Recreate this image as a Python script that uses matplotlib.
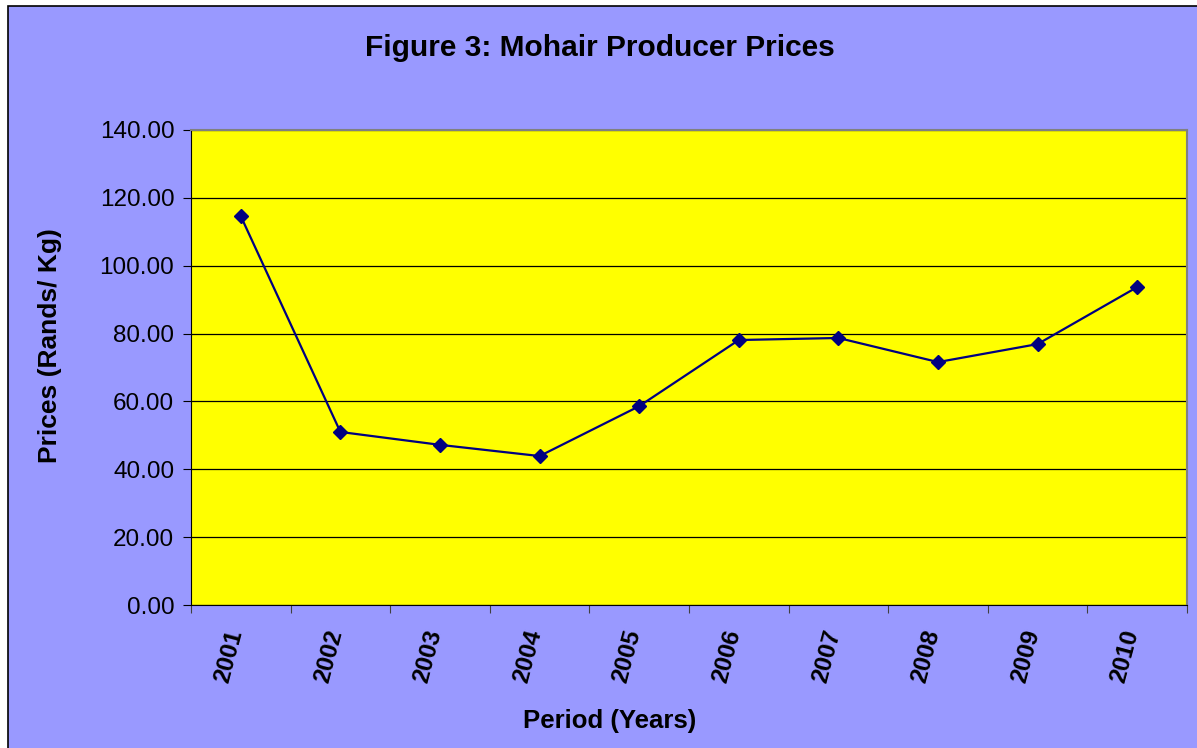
import numpy as np
import matplotlib.pyplot as plt
import matplotlib.transforms as mtransforms
from matplotlib.patches import Rectangle

plt.rcParams['font.family'] = ['Liberation Sans', 'DejaVu Sans']

# ---------------- Datos ----------------
years = ["2001", "2002", "2003", "2004", "2005",
         "2006", "2007", "2008", "2009", "2010"]
prices = [114.6, 51.0, 47.2, 43.9, 58.6, 78.1, 78.7, 71.6, 76.9, 93.7]
yticks = [0, 20, 40, 60, 80, 100, 120, 140]

W, H = 1197, 748
fig = plt.figure(figsize=(W/100, H/100), dpi=100)
fig.patch.set_facecolor("white")

# fondo del gráfico (lila) con borde negro
bg = Rectangle((8/W, -0.05), 1.2, (H - 6)/H + 0.05,
               transform=fig.transFigure, facecolor="#9999FF",
               edgecolor="black", linewidth=1.2, zorder=-10)
fig.add_artist(bg)

ax = fig.add_axes([191/W, (H-605)/H, (1187-191)/W, (605-130)/H])
ax.set_zorder(1)
ax.set_facecolor("#FFFF00")

x = np.arange(len(years))
ax.plot(x, prices, color="#000080", linewidth=1.6, marker="D",
        markersize=7, markerfacecolor="#000080", markeredgecolor="#000080",
        zorder=3)

ax.set_xlim(-0.5, len(years) - 0.5)
ax.set_ylim(0, 140)
ax.set_yticks(yticks)
ax.set_yticklabels([f"{v:.2f}" for v in yticks], fontsize=17.5)
ax.grid(axis="y", color="black", linewidth=0.9)
ax.set_axisbelow(True)

# ticks de categoría en los bordes, etiquetas en el centro
ax.set_xticks(np.arange(-0.5, len(years), 1.0))
ax.set_xticklabels([])
ax.set_xticks(x, minor=True)
ax.set_xticklabels(years, minor=True, rotation=75, fontsize=17.5,
                   fontweight="bold")
ax.tick_params(axis="x", which="minor", length=0, pad=16)
ax.tick_params(axis="x", which="major", length=6, color="#404040")
ax.tick_params(axis="y", length=6, pad=6)
off = mtransforms.ScaledTranslation(-12/100, 0, fig.dpi_scale_trans)
for lab in ax.get_xticklabels(minor=True):
    lab.set_transform(lab.get_transform() + off)

for s in ["left", "bottom"]:
    ax.spines[s].set_color("black")
for s in ["top", "right"]:
    ax.spines[s].set_color("#808080")
    ax.spines[s].set_linewidth(1.5)

fig.text(600/W, 1 - 48/H, "Figure 3: Mohair Producer Prices", ha="center",
         va="center", fontsize=21.5, fontweight="bold")
fig.text(50/W, 1 - 346/H, "Prices (Rands/ Kg)", ha="center", va="center",
         rotation=90, fontsize=19, fontweight="bold")
fig.text(610/W, 1 - 721/H, "Period (Years)", ha="center", va="center",
         fontsize=18.5, fontweight="bold")

fig.savefig("out.png", dpi=100)
